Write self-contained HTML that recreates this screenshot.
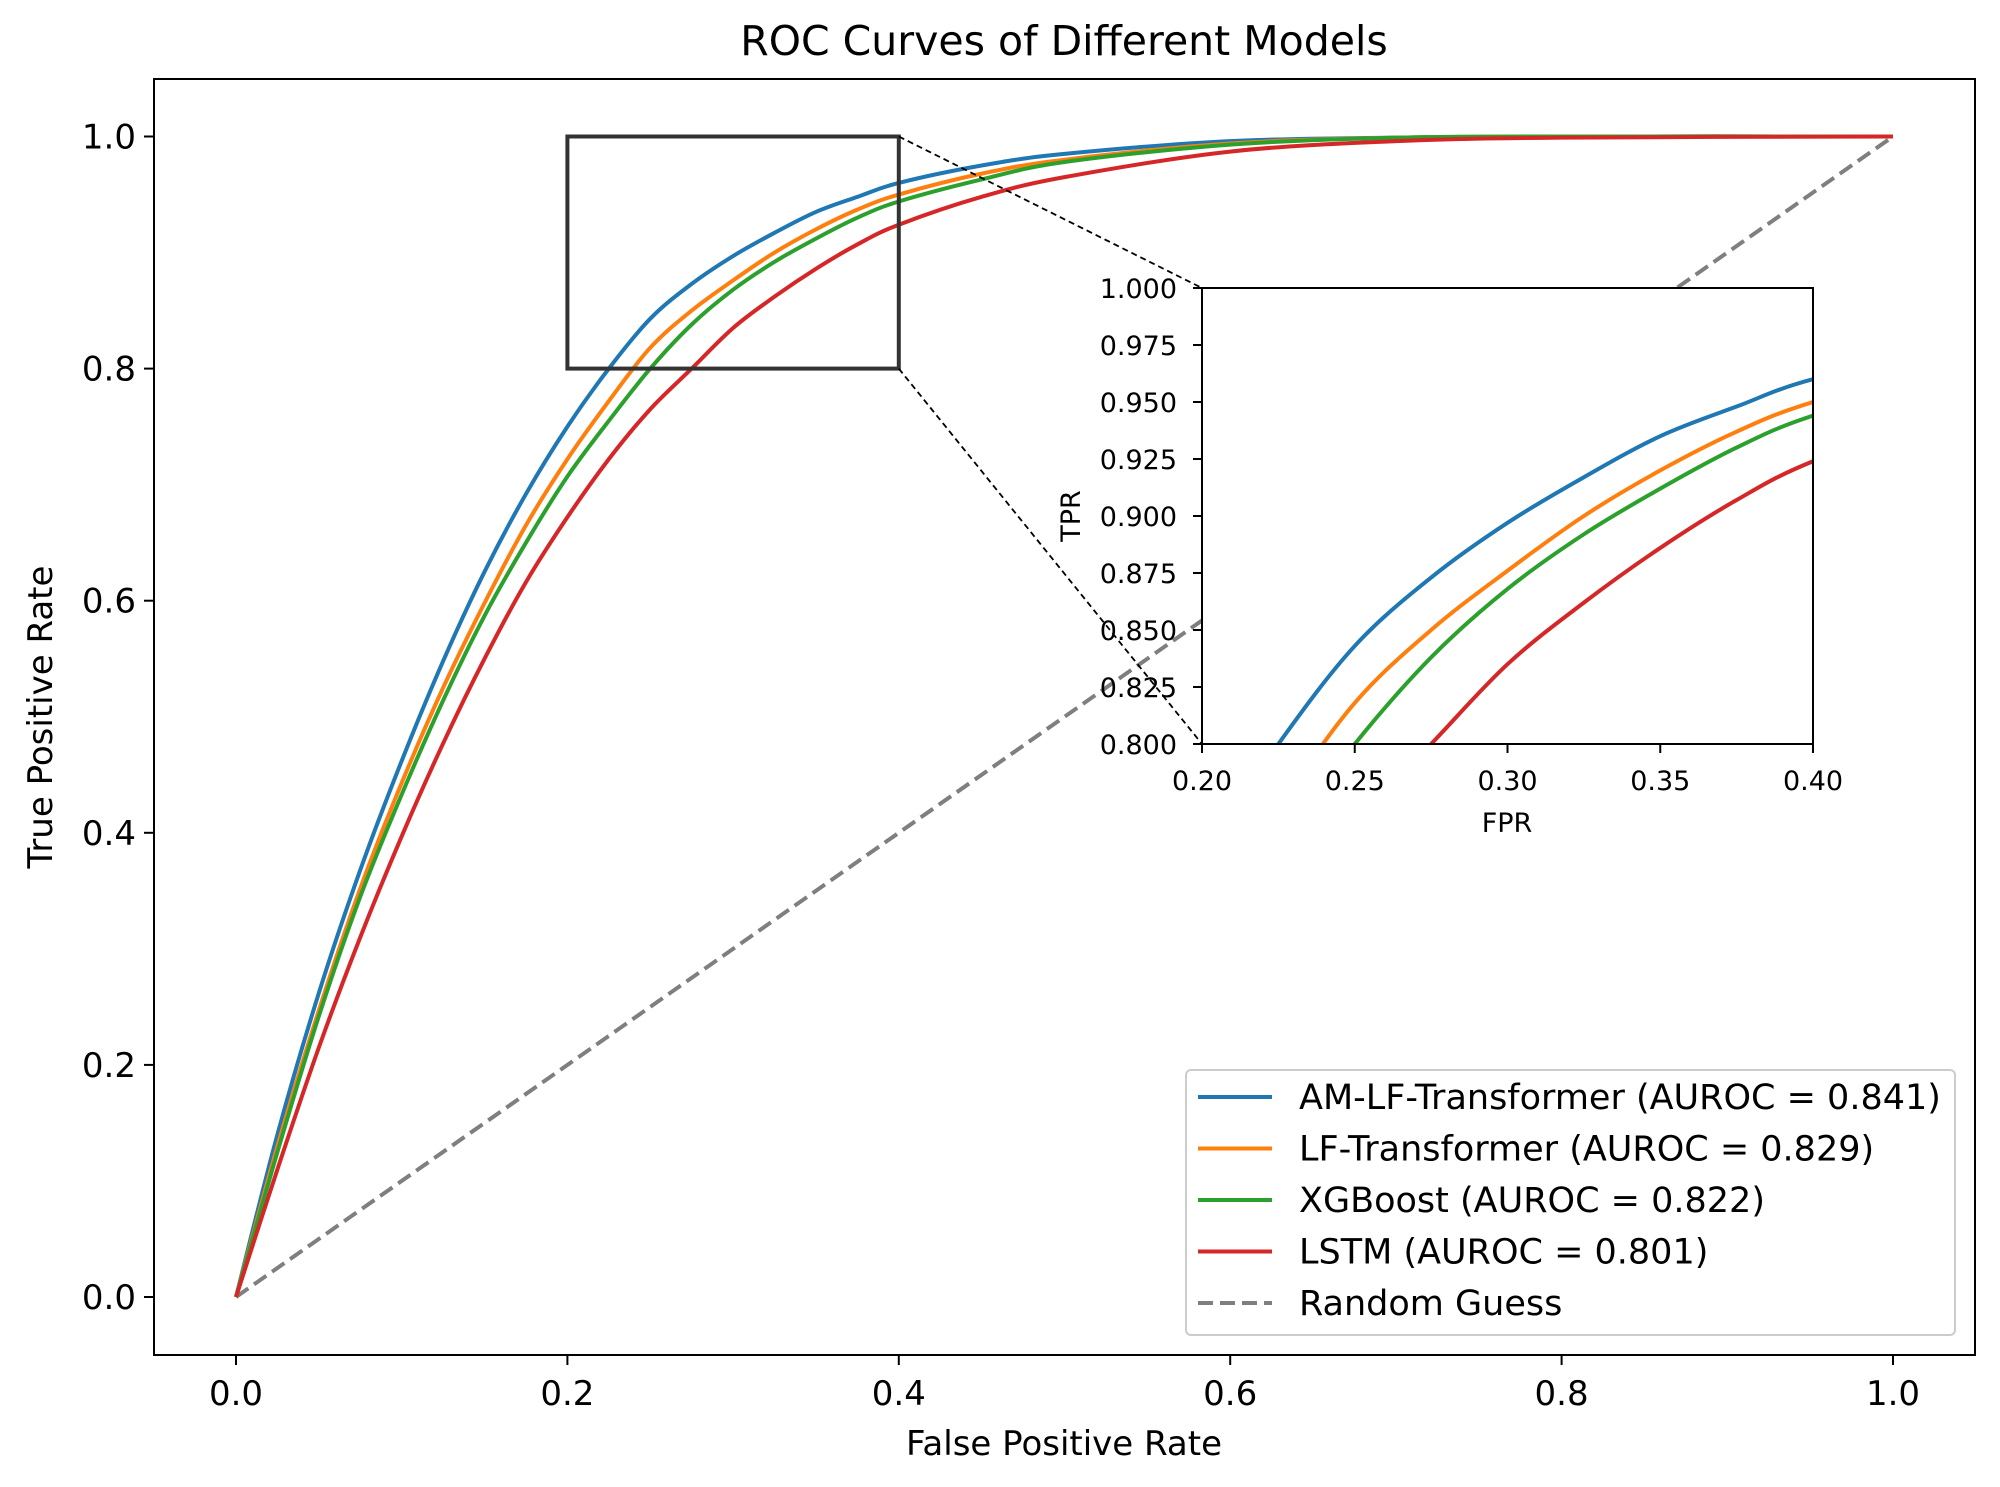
<!DOCTYPE html>
<html><head><meta charset="utf-8"><style>
html,body{margin:0;padding:0;background:#fff;overflow:hidden;width:2000px;height:1487px;}
svg{display:block;position:absolute;left:0;top:0;}
svg text{font-family:"DejaVu Sans","Liberation Sans",sans-serif;fill:#000;}
</style></head><body>
<svg id="chart" width="2000" height="1487" viewBox="0 0 2000 1487" xmlns="http://www.w3.org/2000/svg" overflow="hidden">
<defs><clipPath id="insetClip"><rect x="1202" y="288" width="611" height="456"/></clipPath>
<clipPath id="mainClip"><rect x="154" y="79" width="1821" height="1276"/></clipPath></defs>
<rect width="2000" height="1487" fill="#fff"/>
<text x="1064" y="55" font-size="41" text-anchor="middle">ROC Curves of Different Models</text>
<g id="main"></g>
<g id="inset"></g>
<g id="legend"></g>
</svg>
<script>
const fpr = [0,0.025,0.05,0.075,0.1,0.125,0.15,0.175,0.2,0.225,0.25,0.275,0.3,0.325,0.35,0.375,0.4,0.45,0.5,0.6,0.7,0.8,1];
const tprAM = [0,0.14,0.262,0.368,0.462,0.548,0.625,0.692,0.75,0.80,0.843,0.873,0.897,0.917,0.935,0.948,0.96,0.975,0.985,0.996,0.999,1,1];
const tprLF = [0,0.13,0.247,0.352,0.443,0.525,0.598,0.665,0.722,0.772,0.818,0.85,0.876,0.9,0.92,0.937,0.95,0.968,0.98,0.994,0.999,1,1];
const tprXGB = [0,0.125,0.242,0.345,0.433,0.514,0.587,0.65,0.707,0.755,0.80,0.838,0.868,0.892,0.912,0.93,0.944,0.963,0.978,0.993,0.999,1,1];
const tprLSTM = [0,0.11,0.215,0.31,0.397,0.477,0.55,0.616,0.672,0.722,0.765,0.80,0.835,0.862,0.886,0.907,0.924,0.948,0.965,0.987,0.996,0.999,1];
const seriesNames = ["AM-LF-Transformer (AUROC = 0.841)","LF-Transformer (AUROC = 0.829)","XGBoost (AUROC = 0.822)","LSTM (AUROC = 0.801)"];
const seriesColors = ["#1f77b4","#ff7f0e","#2ca02c","#d62728"];
const mainTicks = ["0.0","0.2","0.4","0.6","0.8","1.0"];
const insetXTicks = ["0.20","0.25","0.30","0.35","0.40"];
const insetYTicks = ["0.800","0.825","0.850","0.875","0.900","0.925","0.950","0.975","1.000"];
const allSeries = [tprAM,tprLF,tprXGB,tprLSTM];
const NS="http://www.w3.org/2000/svg";
function mk(tag,attrs,parent,txt){const e=document.createElementNS(NS,tag);for(const k in attrs)e.setAttribute(k,attrs[k]);if(txt!=null)e.textContent=txt;parent.appendChild(e);return e;}
const X=v=>236+v*(1893-236), Y=v=>1297-v*(1297-136.5);
const IX=v=>1202+(v-0.2)/0.2*611, IY=v=>744-(v-0.8)/0.2*456;
function smoothPath(xs,ys,fx,fy){
  const p=xs.map((x,i)=>[fx(x),fy(ys[i])]);
  let d="M"+p[0][0]+","+p[0][1];
  for(let i=0;i<p.length-1;i++){
    const p0=p[Math.max(0,i-1)],p1=p[i],p2=p[i+1],p3=p[Math.min(p.length-1,i+2)];
    const c1=[p1[0]+(p2[0]-p0[0])/6,p1[1]+(p2[1]-p0[1])/6];
    const c2=[p2[0]-(p3[0]-p1[0])/6,p2[1]-(p3[1]-p1[1])/6];
    d+=" C"+c1[0]+","+c1[1]+" "+c2[0]+","+c2[1]+" "+p2[0]+","+p2[1];
  }
  return d;
}
const main=document.getElementById('main');
let rg=mk('line',{x1:X(0),y1:Y(0),x2:X(1),y2:Y(1),stroke:'#7f7f7f','stroke-width':4,'stroke-dasharray':'15,7'},main);


allSeries.forEach((s,i)=>{
  const p=mk('path',{d:smoothPath(fpr,s,X,Y),fill:'none',stroke:seriesColors[i],'stroke-width':4,'clip-path':'url(#mainClip)'},main);
  
  
});
let fr=mk('rect',{x:154,y:79,width:1821,height:1276,fill:'none',stroke:'#000','stroke-width':2},main);


mainTicks.forEach(t=>{
  const v=parseFloat(t);
  mk('line',{x1:X(v),y1:1355,x2:X(v),y2:1365,stroke:'#000','stroke-width':2},main);
  const tx=mk('text',{x:X(v),y:1405,'font-size':34,'text-anchor':'middle'},main,t);
  
  
  mk('line',{x1:144,y1:Y(v),x2:154,y2:Y(v),stroke:'#000','stroke-width':2},main);
  const ty=mk('text',{x:136,y:Y(v)+12,'font-size':34,'text-anchor':'end'},main,t);
  
  
});
let xl=mk('text',{x:1064,y:1455,'font-size':34,'text-anchor':'middle'},main,'False Positive Rate');


let yl=mk('text',{x:0,y:0,'font-size':34,'text-anchor':'middle',transform:'translate(52,717) rotate(-90)'},main,'True Positive Rate');


let zb=mk('rect',{x:X(0.2),y:Y(1),width:X(0.4)-X(0.2),height:Y(0.8)-Y(1),fill:'none',stroke:'#333','stroke-width':4},main);


mk('line',{x1:X(0.4),y1:Y(1),x2:1202,y2:288,stroke:'#000','stroke-width':1.8,'stroke-dasharray':'6,4'},main);
mk('line',{x1:X(0.4),y1:Y(0.8),x2:1202,y2:744,stroke:'#000','stroke-width':1.8,'stroke-dasharray':'6,4'},main);
const inset=document.getElementById('inset');
let ib=mk('rect',{x:1202,y:288,width:611,height:456,fill:'#fff'},inset);


allSeries.forEach((s,i)=>{
  const p=mk('path',{d:smoothPath(fpr,s,IX,IY),fill:'none',stroke:seriesColors[i],'stroke-width':4,'clip-path':'url(#insetClip)'},inset);
  
  
});
mk('rect',{x:1202,y:288,width:611,height:456,fill:'none',stroke:'#000','stroke-width':2},inset);
insetXTicks.forEach(t=>{const v=parseFloat(t);
  mk('line',{x1:IX(v),y1:744,x2:IX(v),y2:753,stroke:'#000','stroke-width':2},inset);
  const e=mk('text',{x:IX(v),y:790,'font-size':27,'text-anchor':'middle'},inset,t);
  
  
});
insetYTicks.forEach(t=>{const v=parseFloat(t);
  mk('line',{x1:1193,y1:IY(v),x2:1202,y2:IY(v),stroke:'#000','stroke-width':2},inset);
  const e=mk('text',{x:1177,y:IY(v)+10,'font-size':27,'text-anchor':'end'},inset,t);
  
  
});
let ixl=mk('text',{x:1507,y:832,'font-size':27,'text-anchor':'middle'},inset,'FPR');


let iyl=mk('text',{x:0,y:0,'font-size':27,'text-anchor':'middle',transform:'translate(1080,516) rotate(-90)'},inset,'TPR');


const lg=document.getElementById('legend');
let lb=mk('rect',{x:1186,y:1070,width:769,height:265,rx:5,fill:'#fff','fill-opacity':0.8,stroke:'#ccc','stroke-width':2},lg);


const names=seriesNames.concat(['Random Guess']);
const cols=seriesColors.concat(['#7f7f7f']);
names.forEach((n,i)=>{
  const y=1097+i*51.5;
  const g=mk('g',{},lg);
  
  
  const a={x1:1198,y1:y,x2:1272,y2:y,stroke:cols[i],'stroke-width':4};
  if(i==4)a['stroke-dasharray']='15,7';
  mk('line',a,g);
  mk('text',{x:1299,y:y+12,'font-size':35},g,n);
});
</script>
</body></html>
